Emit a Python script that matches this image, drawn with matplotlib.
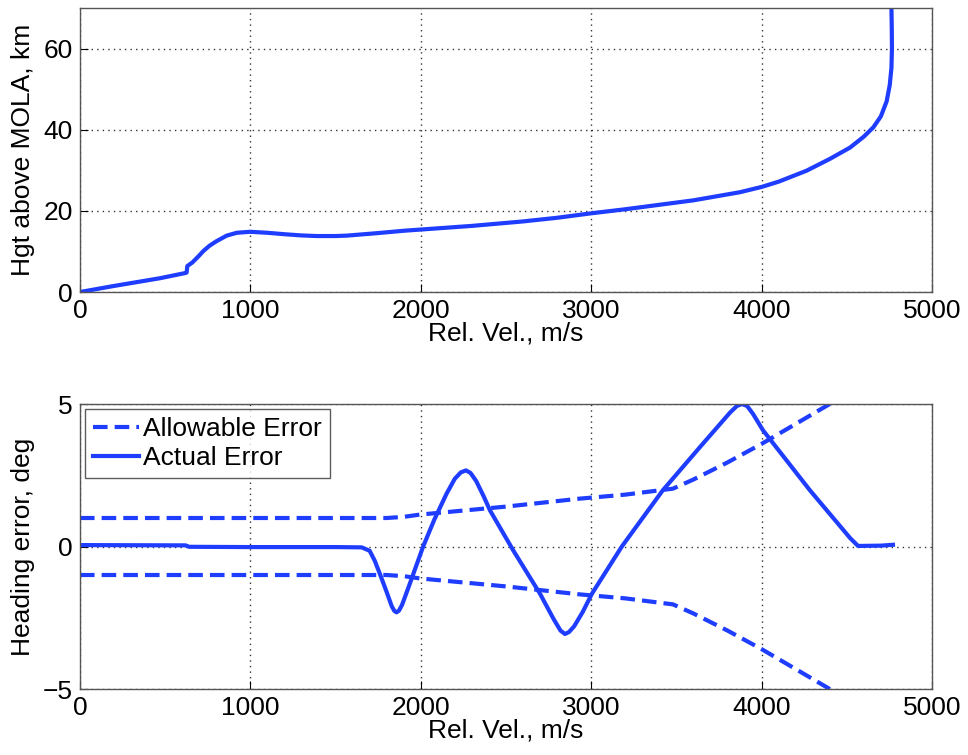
import matplotlib.pyplot as plt

plt.rcParams['font.family'] = ['Liberation Sans', 'DejaVu Sans']

BLUE = "#1f3dff"
FS = 19

# top panel: altitude vs relative velocity
vel_top = [0, 200, 469, 620, 626, 630, 660, 700, 724, 760, 800, 861, 920, 998,
           1100, 1200, 1300, 1389, 1500, 1565, 1741, 1900, 2100, 2300, 2600, 2800,
           3000, 3200, 3400, 3600, 3873, 4000, 4100, 4264, 4400, 4519, 4600, 4656,
           4700, 4734, 4752, 4762, 4765, 4764, 4762]
hgt_top = [0.0, 1.5, 3.4, 4.7, 4.8, 6.4, 7.3, 9.0, 10.1, 11.4, 12.5, 13.9, 14.6, 14.85,
           14.6, 14.25, 13.95, 13.8, 13.8, 13.9, 14.5, 15.1, 15.7, 16.3, 17.4, 18.3,
           19.4, 20.4, 21.5, 22.6, 24.6, 25.9, 27.2, 29.9, 32.8, 35.6, 38.3, 40.6,
           43.3, 47.0, 51.0, 55.2, 60.0, 65.0, 70.0]

# bottom panel: heading error vs relative velocity
vel_allow = [0, 1000, 1800, 1900, 1995, 2500, 2934, 3200, 3480, 3600, 3800, 4000, 4200, 4400, 4450]
allow_err = [1.0, 1.0, 1.0, 1.04, 1.12, 1.4, 1.68, 1.82, 2.03, 2.35, 2.95, 3.6, 4.3, 5.0, 5.2]

vel_act = [0, 620, 640, 1000, 1500, 1653, 1700, 1730, 1760, 1800, 1830, 1845, 1858, 1872,
           1890, 1930, 2014, 2080, 2151, 2200, 2235, 2265, 2292, 2325, 2370, 2406,
           2543, 2700, 2780, 2820, 2846, 2870, 2900, 2950, 3005, 3180, 3420, 3640,
           3815, 3855, 3885, 3915, 3950, 4008, 4284, 4519, 4566, 4700, 4771]
act_err = [0.05, 0.04, -0.01, -0.02, -0.02, -0.03, -0.15, -0.5, -0.96, -1.6, -2.1, -2.26,
           -2.31, -2.25, -2.05, -1.4, 0.0, 0.95, 1.85, 2.38, 2.6, 2.67, 2.58, 2.3, 1.75,
           1.27, -0.14, -1.66, -2.55, -2.95, -3.07, -3.0, -2.8, -2.3, -1.65, 0.0, 1.97,
           3.5, 4.7, 4.93, 5.0, 4.93, 4.65, 4.08, 1.97, 0.3, 0.02, 0.03, 0.06]

fig = plt.figure(figsize=(9.68, 7.55), dpi=100)
ax1 = fig.add_axes([0.0826, 0.6132, 0.8802, 0.3762])
ax2 = fig.add_axes([0.0826, 0.0874, 0.8802, 0.3775])

ax1.plot(vel_top, hgt_top, color=BLUE, lw=3, solid_joinstyle="round")
ax1.set_xlim(0, 5000)
ax1.set_ylim(0, 70)
ax1.set_yticks([0, 20, 40, 60])
ax1.set_xlabel("Rel. Vel., m/s", labelpad=-1)
ax1.set_ylabel("Hgt above MOLA, km", labelpad=6)

ax2.plot(vel_allow, allow_err, color=BLUE, lw=3, linestyle=(0, (3.5, 1.7)),
         label="Allowable Error")
ax2.plot(vel_act, act_err, color=BLUE, lw=3, solid_joinstyle="round", label="Actual Error")
ax2.plot(vel_allow, [-v for v in allow_err], color=BLUE, lw=3, linestyle=(0, (3.5, 1.7)))
ax2.set_xlim(0, 5000)
ax2.set_ylim(-5, 5)
ax2.set_yticks([-5, 0, 5])
ax2.set_xlabel("Rel. Vel., m/s", labelpad=-1)
ax2.set_ylabel("Heading error, deg", labelpad=6)
leg = ax2.legend(loc="upper left", fontsize=FS, frameon=True, fancybox=False,
                 handlelength=1.75, handletextpad=0.15, borderpad=0.3,
                 labelspacing=0.2, borderaxespad=0.2)
leg.get_frame().set_edgecolor("#333333")
leg.get_frame().set_linewidth(1.0)

for ax in (ax1, ax2):
    ax.set_xticks([0, 1000, 2000, 3000, 4000, 5000])
    ax.grid(True, linestyle=(0, (1, 3)), color="#333333", lw=1.0)
    ax.tick_params(direction="in", length=6, labelsize=FS, pad=5)
    ax.xaxis.label.set_size(FS)
    ax.yaxis.label.set_size(FS)
    for s in ax.spines.values():
        s.set_color("#555555")
        s.set_linewidth(1.0)

fig.savefig("out.png", dpi=100)
